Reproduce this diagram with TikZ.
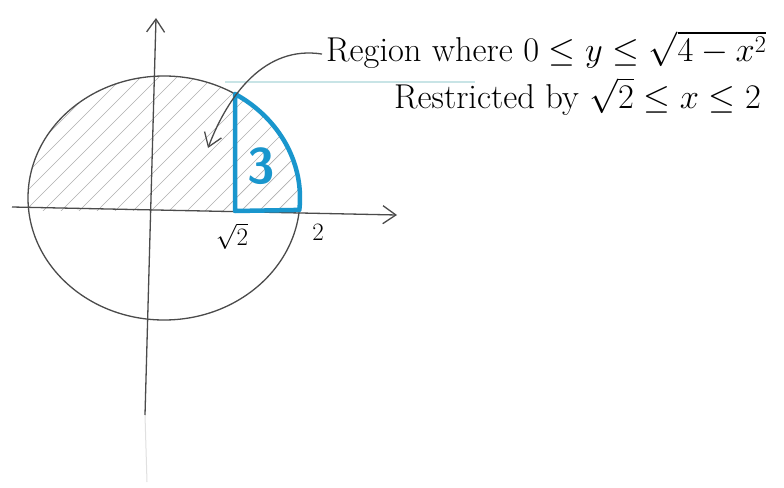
\RequirePackage{fix-cm}
\documentclass[tikz,border=0pt]{standalone}
\usetikzlibrary{arrows.meta}
\definecolor{regblue}{RGB}{25,150,205}
\definecolor{pencil}{RGB}{75,75,75}
\definecolor{hatchgray}{RGB}{175,175,175}
\definecolor{faintteal}{RGB}{200,228,230}
\tikzset{
  pencilline/.style={draw=pencil, line width=1.3pt},
  axisarrow/.style={pencilline, -{Straight Barb[length=13pt,width=18pt,line width=1.3pt]}},
  hatchline/.style={draw=hatchgray, line width=0.7pt},
  bluebound/.style={draw=regblue, line width=4.5pt, line join=round, line cap=round},
  lbl/.style={inner sep=0pt, font=\fontsize{25}{28}\selectfont},
  notetext/.style={inner sep=0pt, anchor=base west, font=\fontsize{34.5}{40}\selectfont}
}
\begin{document}
\begin{tikzpicture}[x=1pt,y=-1pt]
\useasboundingbox[fill=white] (0,0) rectangle (784,487);
% faint scan line
\draw[faintteal, line width=1.2pt] (225,82) -- (475,82);
% hatching of the upper half of the disc
\begin{scope}
  \clip (0,0) rectangle (784,210);
  \clip (164,198) ellipse [x radius=136, y radius=122];
  \foreach \a in {-220,-202,...,320} \draw[hatchline] (\a,222) -- ++(170,-170);
\end{scope}
% circle
\draw[pencilline] (164,198) ellipse [x radius=136, y radius=122];
% axes
\coordinate (ybot) at (145,415);
\coordinate (ytop) at (156,18);
\coordinate (xleft) at (12,207);
\coordinate (xright) at (397,215);
\draw[draw=black!12, line width=1pt] (ybot) -- (147,482);
\draw[axisarrow] (ybot) -- (ytop);
\draw[axisarrow] (xleft) -- (xright);
% blue region
\coordinate (pa) at (235,211);
\coordinate (pb) at (235,94);
\draw[bluebound] (pa) -- (pb)
  -- plot[domain=58.5:-5.6, samples=30, smooth] ({164+136*cos(\x)},{198-122*sin(\x)})
  -- cycle;
\node[text=regblue, inner sep=0pt, font=\fontsize{50}{54}\sffamily\bfseries\selectfont] (three) at (261,166) {3};
% tick labels
\node[lbl] (lsq) at (232,236) {$\sqrt{2}$};
\node[lbl] (ltwo) at (318,232) {$2$};
% annotation
\node[notetext] (reg) at (326,62) {Region where $0\le y\le\sqrt{4-x^{2}}$};
\node[notetext] (res) at (394,108) {Restricted by $\sqrt{2}\le x\le 2$};
\coordinate (tip) at (208,148);
\draw[pencilline, -{Straight Barb[length=13pt,width=18pt,line width=1.3pt]}]
  ([xshift=-4pt,yshift=-4pt]reg.west) .. controls (265,45) and (228,95) .. (tip);
\end{tikzpicture}
\end{document}
